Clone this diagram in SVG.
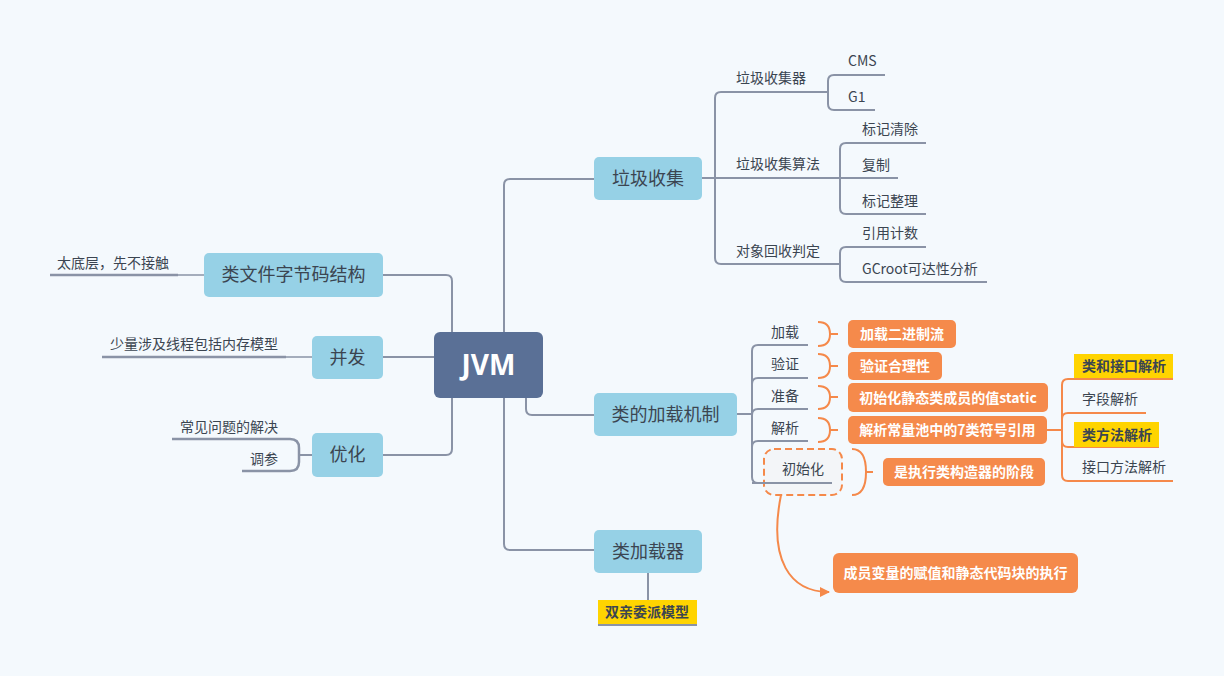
<svg xmlns="http://www.w3.org/2000/svg" width="1224" height="676" viewBox="0 0 1224 676">
<defs>
<style>
.bg{fill:#f4f9fd}
.ln{fill:none;stroke:#8a93a6;stroke-width:2}
.lt{fill:none;stroke:#8a93a6;stroke-width:1.5}
.ol{fill:none;stroke:#f5894a;stroke-width:2}
.topic{fill:#96d1e6}
.tt{font-family:"Noto Sans CJK SC","Noto Sans",sans-serif;font-size:18px;fill:#3b4551;text-anchor:middle}
.lf{font-family:"Noto Sans CJK SC","Noto Sans",sans-serif;font-size:14px;fill:#3b4551}
.ob{fill:#f58a4b}
.ot{font-family:"Noto Sans CJK SC","Noto Sans",sans-serif;font-size:14px;font-weight:bold;fill:#ffffff;text-anchor:middle}
.yb{fill:#ffd400}
.yt{font-family:"Noto Sans CJK SC","Noto Sans",sans-serif;font-size:14px;font-weight:bold;fill:#3b4551}
</style>
<marker id="arr" viewBox="0 0 10 10" refX="9" refY="5" markerWidth="5" markerHeight="5" orient="auto">
<path d="M0,0 L10,5 L0,10 z" fill="#f5894a"/>
</marker>
</defs>
<rect class="bg" x="0" y="0" width="1224" height="676"/>

<g id="connectors">
<!-- left -->
<path class="ln" d="M383,275 H446 Q452,275 452,281 V332"/>
<path class="ln" d="M383,455 H446 Q452,455 452,449 V398"/>
<path class="ln" d="M383,357 H434"/>
<path class="ln" d="M50,275 H178" style="stroke-width:2.5"/>
<path class="lt" d="M178,275 H204"/>
<path class="ln" d="M102,357 H286" style="stroke-width:2.5"/>
<path class="lt" d="M286,357 H312"/>
<path class="ln" d="M172,439 H290 Q299,439 299,448 V462 Q299,471 290,471 H242" style="stroke-width:2.5"/>
<path class="ln" d="M299,455 H312"/>
<!-- right main -->
<path class="ln" d="M504,332 V185 Q504,179 510,179 H594"/>
<path class="ln" d="M504,398 V544 Q504,550 510,550 H594"/>
<path class="ln" d="M526,398 V409 Q526,415 532,415 H594"/>
<!-- GC tree -->
<path class="ln" d="M828,92 H721 Q715,92 715,98 V258 Q715,264 721,264 H840"/>
<path class="ln" d="M702,178 H898"/>
<path class="ln" d="M885,75 H834 Q828,75 828,81 V104 Q828,110 834,110 H875"/>
<path class="ln" d="M926,143 H846 Q840,143 840,149 V208 Q840,214 846,214 H926"/>
<path class="ln" d="M926,247 H846 Q840,247 840,253 V276 Q840,282 846,282 H987"/>
<!-- loading tree -->
<path class="ln" d="M737,414 H752"/>
<path class="ln" d="M808,345 H758 Q752,345 752,351 V477 Q752,483 758,483 H832"/>
<path class="ln" d="M752,384 Q752,378 758,378 H808"/>
<path class="ln" d="M752,415 Q752,409 758,409 H808"/>
<path class="ln" d="M752,447 Q752,441 758,441 H808"/>
<!-- braces -->
<path class="ol" d="M818,322 Q830,322 830,334 Q830,346 818,346 M830,334 H838"/>
<path class="ol" d="M818,354 Q830,354 830,366 Q830,378 818,378 M830,366 H838"/>
<path class="ol" d="M818,386 Q830,386 830,397 Q830,409 818,409 M830,397 H838"/>
<path class="ol" d="M818,418 Q830,418 830,430 Q830,442 818,442 M830,430 H838"/>
<path class="ol" d="M852,449 Q866,449 866,472 Q866,495 852,495 M866,472 H873"/>
<!-- resolve subtree -->
<path class="ol" d="M1047,430 H1062"/>
<path class="ol" d="M1173,379 H1068 Q1062,379 1062,385 V475 Q1062,481 1068,481 H1173"/>
<path class="ol" d="M1062,419 Q1062,413 1068,413 H1146"/>
<path class="ol" d="M1062,441 Q1062,447 1068,447 H1159"/>
<!-- arrow -->
<path class="ol" d="M781,495 C768,560 790,592 829,592" marker-end="url(#arr)"/>
<!-- class loader -->
<path class="ln" d="M648,573 V600"/>
<path class="ln" d="M598,625 H697"/>
</g>

<g id="jvm">
<rect x="434" y="332" width="109" height="66" rx="6" fill="#5a7096"/>
<text x="488.5" y="375" font-family="'Open Sans','Noto Sans',sans-serif" font-size="28" font-weight="bold" fill="#ffffff" text-anchor="middle">JVM</text>
</g>

<g id="n-gc"><rect class="topic" x="594" y="157" width="108" height="43" rx="5"/><text class="tt" x="648" y="185">垃圾收集</text></g>
<g id="n-classfile"><rect class="topic" x="204" y="253" width="179" height="44" rx="5"/><text class="tt" x="293.5" y="281">类文件字节码结构</text></g>
<g id="n-concurrency"><rect class="topic" x="312" y="336" width="71" height="43" rx="5"/><text class="tt" x="347.5" y="364">并发</text></g>
<g id="n-opt"><rect class="topic" x="312" y="433" width="71" height="44" rx="5"/><text class="tt" x="347.5" y="461">优化</text></g>
<g id="n-loading"><rect class="topic" x="594" y="393" width="143" height="43" rx="5"/><text class="tt" x="665.5" y="421">类的加载机制</text></g>
<g id="n-loader"><rect class="topic" x="594" y="530" width="108" height="43" rx="5"/><text class="tt" x="648" y="558">类加载器</text></g>

<g id="left-leaves">
<text class="lf" x="57" y="268">太底层，先不接触</text>
<text class="lf" x="110" y="349">少量涉及线程包括内存模型</text>
<text class="lf" x="180" y="432">常见问题的解决</text>
<text class="lf" x="250" y="464">调参</text>
</g>

<g id="gc-leaves">
<text class="lf" x="736" y="83">垃圾收集器</text>
<text class="lf" x="736" y="169">垃圾收集算法</text>
<text class="lf" x="736" y="256">对象回收判定</text>
<text class="lf" x="848" y="66">CMS</text>
<text class="lf" x="848" y="102">G1</text>
<text class="lf" x="862" y="134">标记清除</text>
<text class="lf" x="862" y="170">复制</text>
<text class="lf" x="862" y="206">标记整理</text>
<text class="lf" x="862" y="238">引用计数</text>
<text class="lf" x="862" y="274">GCroot可达性分析</text>
</g>

<g id="load-steps">
<text class="lf" x="771" y="337">加载</text>
<text class="lf" x="771" y="369">验证</text>
<text class="lf" x="771" y="401">准备</text>
<text class="lf" x="771" y="433">解析</text>
</g>

<g id="n-init">
<rect x="764" y="449" width="78" height="46" rx="10" fill="#f3f5f8" stroke="#f5894a" stroke-width="2" stroke-dasharray="7,4"/>
<text class="lf" x="782" y="474">初始化</text>
</g>
<path class="ln" d="M752,483 H832"/>

<g id="orange-boxes">
<g id="o1"><rect class="ob" x="848" y="320" width="108" height="28" rx="5"/><text class="ot" x="902" y="339">加载二进制流</text></g>
<g id="o2"><rect class="ob" x="848" y="352" width="94" height="28" rx="5"/><text class="ot" x="895" y="371">验证合理性</text></g>
<g id="o3"><rect class="ob" x="848" y="383" width="200" height="29" rx="5"/><text class="ot" x="948" y="402.5">初始化静态类成员的值static</text></g>
<g id="o4"><rect class="ob" x="848" y="416" width="199" height="28" rx="5"/><text class="ot" x="947.5" y="435">解析常量池中的7类符号引用</text></g>
<g id="o5"><rect class="ob" x="883" y="458" width="162" height="28" rx="5"/><text class="ot" x="964" y="477">是执行类构造器的阶段</text></g>
<g id="o6"><rect class="ob" x="833" y="553" width="245" height="40" rx="6"/><text class="ot" x="955.5" y="578">成员变量的赋值和静态代码块的执行</text></g>
</g>

<g id="resolve-leaves">
<g id="y1"><rect class="yb" x="1074" y="354" width="99" height="24"/><text class="yt" x="1082" y="371">类和接口解析</text></g>
<text class="lf" x="1082" y="404">字段解析</text>
<g id="y2"><rect class="yb" x="1074" y="422" width="85" height="25"/><text class="yt" x="1082" y="439.5">类方法解析</text></g>
<text class="lf" x="1082" y="472">接口方法解析</text>
</g>

<g id="n-parent"><rect class="yb" x="598" y="600" width="99" height="24"/><text class="yt" x="605" y="617">双亲委派模型</text></g>
</svg>
